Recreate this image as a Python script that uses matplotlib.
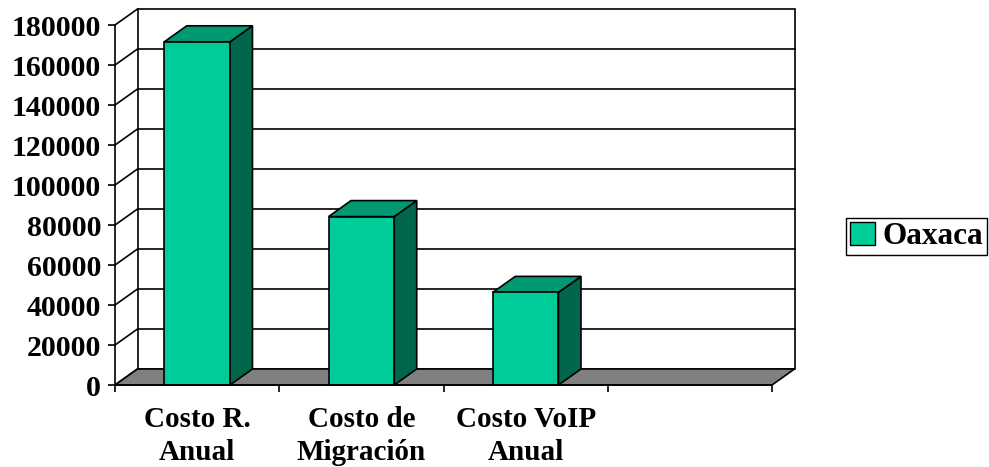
import numpy as np
import matplotlib.pyplot as plt
from matplotlib.patches import Polygon, Rectangle, Patch

# costs for Oaxaca
categories = ["Costo R.\nAnual", "Costo de\nMigración", "Costo VoIP\nAnual", ""]
values = [171600, 84200, 46300]
series_name = "Oaxaca"
yticks = list(range(0, 180001, 20000))

FRONT = "#00CC99"
TOP = "#009973"
SIDE = "#00664C"
FLOOR = "#808080"

plt.rcParams["font.family"] = ["Liberation Serif", "DejaVu Serif"]
plt.rcParams["font.weight"] = "bold"

W, H = 989, 467
fig = plt.figure(figsize=(W / 100, H / 100), dpi=100)
# front plane of the 3d box
ax = fig.add_axes([115 / W, (H - 385) / H, 657 / W, 360 / H])
x0, x1 = -0.5, len(categories) - 0.5
ymax = 180000
ax.set_xlim(x0, x1)
ax.set_ylim(0, ymax)

# depth offset of the pseudo-3d walls and bars (data units)
DX = 22.5 / 164.25
DY = 8000
bar_w = 0.4

# back wall + gridlines
ax.add_patch(Rectangle((x0 + DX, DY), x1 - x0, ymax, facecolor="white",
                       edgecolor="black", lw=1.2, clip_on=False, zorder=1))
for t in yticks[1:-1]:
    ax.plot([x0 + DX, x1 + DX], [t + DY, t + DY], color="black", lw=1.2,
            clip_on=False, zorder=1.5)
# left wall with diagonal tick connectors
for t in yticks:
    ax.plot([x0, x0 + DX], [t, t + DY], color="black", lw=1.2,
            clip_on=False, zorder=2)
# floor
ax.add_patch(Polygon([(x0, 0), (x1, 0), (x1 + DX, DY), (x0 + DX, DY)],
                     closed=True, facecolor=FLOOR, edgecolor="black", lw=1.2,
                     clip_on=False, zorder=2))

# bars: front face, right side, top
for i, v in enumerate(values):
    l, r = i - bar_w / 2, i + bar_w / 2
    ax.add_patch(Polygon([(r, 0), (r + DX, DY), (r + DX, v + DY), (r, v)],
                         closed=True, facecolor=SIDE, edgecolor="black",
                         lw=1.2, clip_on=False, zorder=3))
    ax.add_patch(Polygon([(l, v), (r, v), (r + DX, v + DY), (l + DX, v + DY)],
                         closed=True, facecolor=TOP, edgecolor="black",
                         lw=1.2, clip_on=False, zorder=3))
    ax.add_patch(Rectangle((l, 0), bar_w, v, facecolor=FRONT,
                           edgecolor="black", lw=1.2, clip_on=False, zorder=4))

# axes
for s in ["top", "right"]:
    ax.spines[s].set_visible(False)
for s in ["left", "bottom"]:
    ax.spines[s].set_linewidth(1.2)
    ax.spines[s].set_zorder(5)
ax.patch.set_visible(False)

ax.set_yticks(yticks)
ax.set_yticklabels([str(t) for t in yticks], fontsize=21.5, fontweight="bold")
ax.tick_params(axis="y", direction="out", length=5, width=1.2, pad=5)

ax.set_xticks(np.arange(x0, x1 + 0.01, 1.0))
ax.set_xticklabels([])
ax.tick_params(axis="x", which="major", direction="out", length=5, width=1.2)
ax.set_xticks(np.arange(len(categories)), minor=True)
ax.set_xticklabels(categories, minor=True, fontsize=21, fontweight="bold",
                   linespacing=1.3)
ax.tick_params(axis="x", which="minor", length=0, pad=15)

fig.legend(handles=[Patch(facecolor=FRONT, edgecolor="black", label=series_name)],
           loc="upper left", bbox_to_anchor=(846 / W, 1 - 218 / H),
           frameon=True, fancybox=False, edgecolor="black", framealpha=1,
           prop={"size": 22.5, "weight": "bold"}, borderpad=0.12,
           handlelength=0.8, handleheight=0.75, handletextpad=0.25,
           borderaxespad=0)

fig.savefig("out.png", dpi=100)
